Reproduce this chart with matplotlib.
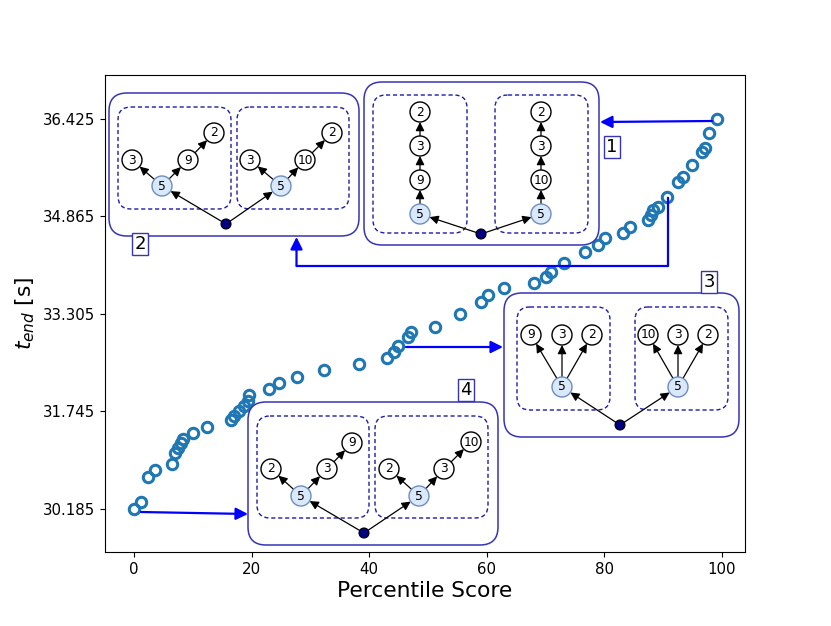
import matplotlib
matplotlib.use("Agg")
import matplotlib.pyplot as plt
import numpy as np
from matplotlib.patches import Circle, FancyBboxPatch, FancyArrowPatch
from matplotlib.ticker import FormatStrFormatter

# percentile score vs end time
pct = [0.0, 1.1, 2.3, 3.5, 6.4, 6.9, 7.4, 7.9, 8.3, 10.0,
       12.4, 16.4, 17.0, 17.8, 18.7, 19.3, 19.5, 22.9, 24.6, 27.8,
       32.4, 38.2, 43.0, 44.3, 44.9, 46.7, 47.2, 51.3, 55.4, 59.0,
       60.2, 63.0, 68.0, 70.2, 70.9, 73.1, 76.8, 79.0, 80.2, 83.3,
       84.5, 87.4, 88.0, 88.4, 89.2, 90.8, 92.6, 93.5, 95.0, 96.7,
       97.2, 97.9, 99.3]
t_end = [30.185, 30.30, 30.70, 30.81, 30.91, 31.08, 31.16, 31.24, 31.31, 31.40,
         31.50, 31.61, 31.67, 31.75, 31.83, 31.91, 32.01, 32.11, 32.20, 32.30,
         32.41, 32.51, 32.60, 32.70, 32.79, 32.94, 33.02, 33.10, 33.31, 33.50,
         33.61, 33.71, 33.80, 33.90, 33.98, 34.11, 34.30, 34.41, 34.52, 34.60,
         34.70, 34.81, 34.89, 34.97, 35.02, 35.18, 35.42, 35.50, 35.69, 35.90,
         35.96, 36.20, 36.425]

W, H = 831, 626
fig = plt.figure(figsize=(W / 100, H / 100), dpi=100)
ax = fig.add_axes([105 / W, 1 - 552 / H, 640 / W, 477 / H])
ax.plot(pct, t_end, "o", ms=7.5, mfc="none", mec="#1f77b4", mew=2.2)
ax.set_xlim(-4.97, 104.0)
lo, hi = min(t_end), max(t_end)
ax.set_ylim(lo - 0.69, hi + 0.70)
ax.set_yticks(np.linspace(lo, hi, 5))
ax.yaxis.set_major_formatter(FormatStrFormatter("%.3f"))
ax.tick_params(labelsize=10.8)
ax.set_xlabel("Percentile Score", fontsize=15.7, labelpad=3)
ax.set_ylabel(r"$t_{end}$ [s]", fontsize=15.7)

# overlay in pixel coordinates for the tree sketches
ov = fig.add_axes([0, 0, 1, 1])
ov.set_xlim(0, W); ov.set_ylim(H, 0); ov.axis("off")
ov.patch.set_alpha(0)

OUTER = "#3535b5"; DASH = "#1c1ca6"; BLUE = "#0000ff"
R = 10

def panel(x0, y0, x1, y1):
    ov.add_patch(FancyBboxPatch((x0, y0), x1 - x0, y1 - y0,
                                boxstyle="round,pad=0,rounding_size=18",
                                fc="white", ec=OUTER, lw=1.1))

def group(x0, y0, x1, y1):
    ov.add_patch(FancyBboxPatch((x0, y0), x1 - x0, y1 - y0,
                                boxstyle="round,pad=0,rounding_size=13",
                                fc="none", ec=DASH, lw=1.0, ls=(0, (3, 2))))

def node(p, lab, start=False):
    fc, ec = ("#dae8fc", "#6c8ebf") if start else ("white", "black")
    ov.add_patch(Circle(p, R, fc=fc, ec=ec, lw=1.0, zorder=3))
    ov.text(p[0], p[1], lab, ha="center", va="center", fontsize=8.8, zorder=4)

def root(p):
    ov.add_patch(Circle(p, 5, fc="#000080", ec="black", lw=0.8, zorder=3))

def edge(a, b, ra=R, rb=R):
    a = np.array(a, float); b = np.array(b, float)
    u = (b - a) / np.hypot(*(b - a))
    ov.add_patch(FancyArrowPatch(tuple(a + u * ra), tuple(b - u * rb),
                                 arrowstyle="-|>", mutation_scale=13,
                                 color="black", lw=0.9, shrinkA=0, shrinkB=0, zorder=2))

def tag(p, lab):
    ov.text(p[0], p[1], lab, ha="center", va="center", fontsize=13,
            bbox=dict(boxstyle="square,pad=0.12", fc="white", ec=OUTER, lw=1.0))

def tree(r, groups):
    # groups: list of (start node position, [(pos, label, parent index or -1)])
    root(r)
    for s, kids in groups:
        node(s, "5", start=True)
        edge(r, s, ra=5)
        pos = [s]
        for p, lab, par in kids:
            node(p, lab)
            edge(pos[par + 1], p)
            pos.append(p)

# inset 1: chains
panel(364, 82, 599, 245)
group(373, 95, 467, 233); group(495, 95, 588, 233)
tree((481, 234), [
    ((420, 214), [((420, 180), "9", -1), ((420, 146), "3", 0), ((420, 112), "2", 1)]),
    ((541, 214), [((541, 180), "10", -1), ((541, 146), "3", 0), ((541, 112), "2", 1)]),
])
tag((612, 147), "1")

# inset 2
panel(109, 93, 359, 236)
group(118, 107, 231, 209); group(237, 107, 349, 209)
tree((226, 224), [
    ((162, 186), [((132, 160), "3", -1), ((188, 160), "9", -1), ((214, 133), "2", 1)]),
    ((281, 186), [((250, 160), "3", -1), ((305, 160), "10", -1), ((332, 133), "2", 1)]),
])
tag((140, 244), "2")

# inset 3: fans
panel(504, 293, 739, 437)
group(517, 307, 610, 410); group(635, 307, 728, 410)
tree((620, 425), [
    ((562, 387), [((531, 335), "9", -1), ((562, 335), "3", -1), ((592, 335), "2", -1)]),
    ((678, 387), [((648, 335), "10", -1), ((678, 335), "3", -1), ((708, 335), "2", -1)]),
])
tag((709, 282), "3")

# inset 4
panel(248, 402, 498, 545)
group(257, 416, 369, 518); group(375, 416, 488, 518)
tree((364, 533), [
    ((301, 496), [((271, 469), "2", -1), ((327, 469), "3", -1), ((352, 443), "9", 1)]),
    ((419, 496), [((389, 469), "2", -1), ((444, 469), "3", -1), ((471, 442), "10", 1)]),
])
tag((466, 390), "4")

# blue pointers from the points to the sketches
def pointer(a, b):
    ov.add_patch(FancyArrowPatch(a, b, arrowstyle="-|>", mutation_scale=18,
                                 color=BLUE, lw=1.6, shrinkA=0, shrinkB=0, zorder=5))

pointer((141, 512), (248, 514))
pointer((712, 121), (600, 122))
ov.plot([668, 668, 296.5], [198, 266, 266], color=BLUE, lw=1.6, zorder=5)
pointer((296.5, 266), (296.5, 237))
pointer((406, 347), (503, 347))

fig.savefig("out.png", dpi=100)
